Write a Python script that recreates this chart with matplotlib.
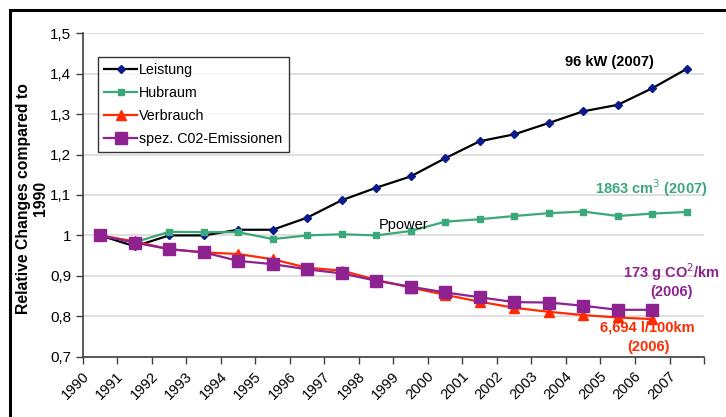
import numpy as np
import matplotlib.pyplot as plt
from matplotlib.patches import Rectangle

plt.rcParams['font.family'] = ['Liberation Sans', 'DejaVu Sans']

years = [str(y) for y in range(1990, 2008)]
leistung = [1.0, 0.973, 1.0, 1.0, 1.014, 1.014, 1.044, 1.087, 1.118, 1.146,
            1.191, 1.233, 1.250, 1.278, 1.307, 1.323, 1.364, 1.412]
hubraum = [1.0, 0.983, 1.009, 1.008, 1.008, 0.991, 1.0, 1.003, 1.0, 1.011,
           1.034, 1.040, 1.048, 1.055, 1.059, 1.048, 1.054, 1.058]
verbrauch = [1.0, 0.985, 0.966, 0.958, 0.954, 0.941, 0.920, 0.913, 0.890, 0.871,
             0.853, 0.836, 0.821, 0.811, 0.803, 0.797, 0.793]
co2 = [1.0, 0.982, 0.966, 0.958, 0.937, 0.929, 0.916, 0.906, 0.888, 0.873,
       0.859, 0.847, 0.835, 0.834, 0.826, 0.816, 0.816]
yticks = [0.7, 0.8, 0.9, 1.0, 1.1, 1.2, 1.3, 1.4, 1.5]
ytick_labels = ['0,7', '0,8', '0,9', '1', '1,1', '1,2', '1,3', '1,4', '1,5']

fig = plt.figure(figsize=(7.26, 4.17), dpi=100)
ax = fig.add_axes([0.1143, 0.1446, 0.8554, 0.7756])

x = np.arange(len(years))
ax.plot(x, leistung, color='black', lw=1.6, marker='D', ms=4.5,
        mfc='#0a1a8c', mec='#0a1a8c', label='Leistung', zorder=3)
ax.plot(x, hubraum, color='#3aa878', lw=1.6, marker='s', ms=5,
        mfc='#3aa878', mec='#3aa878', label='Hubraum', zorder=3)
ax.plot(x[:len(verbrauch)], verbrauch, color='#ff2a00', lw=1.6, marker='^', ms=6.5,
        mfc='#ff2a00', mec='#ff2a00', label='Verbrauch', zorder=4)
ax.plot(x[:len(co2)], co2, color='#8e2291', lw=1.6, marker='s', ms=9,
        mfc='#8e2291', mec='#8e2291', label='spez. C02-Emissionen', zorder=5)

ax.set_xlim(-0.5, len(years) - 0.5)
ax.set_ylim(0.7, 1.5)
ax.set_yticks(yticks)
ax.set_yticklabels(ytick_labels, fontsize=11)
ax.yaxis.grid(True, color='#d9d9d9', lw=1.2)
ax.set_axisbelow(True)

# category boundaries carry the tick marks, labels sit left of the centres
ax.set_xticks(np.arange(len(years) + 1) - 0.5, minor=True)
ax.set_xticks(x - 0.25)
ax.set_xticklabels(years, rotation=45, ha='right', va='top', fontsize=10.5)
ax.tick_params(axis='x', which='major', length=0, pad=9)
ax.tick_params(axis='x', which='minor', length=5, width=1, color='#404040')
ax.tick_params(axis='y', length=5, width=1, color='#404040')
for side in ['top', 'right']:
    ax.spines[side].set_visible(False)
for side in ['left', 'bottom']:
    ax.spines[side].set_color('#404040')
    ax.spines[side].set_linewidth(1.2)

ax.set_ylabel('Relative Changes compared to\n1990', fontsize=11.3,
              fontweight='bold', linespacing=1.15)
ax.yaxis.set_label_coords(-0.056, 0.49)

leg = ax.legend(loc='upper left', bbox_to_anchor=(0.024, 0.927), fontsize=10.3,
                frameon=True, fancybox=False, edgecolor='black',
                handlelength=2.3, handletextpad=0.15, borderpad=0.45,
                labelspacing=0.62, borderaxespad=0)
leg.get_frame().set_linewidth(1.0)

ax.text(14.77, 1.428, '96 kW (2007)', fontsize=10.5, fontweight='bold',
        ha='center', va='center', color='black')
ax.text(15.96, 1.118, '1863 cm$^{3}$ (2007)', fontsize=10.5, fontweight='bold',
        ha='center', va='center', color='#3aa878')
ax.text(16.55, 0.910, '173 g CO$^{2}$/km', fontsize=10.5, fontweight='bold',
        ha='center', va='center', color='#8e2291', clip_on=False)
ax.text(16.55, 0.860, '(2006)', fontsize=10.5, fontweight='bold',
        ha='center', va='center', color='#8e2291')
ax.text(15.86, 0.771, '6,694 l/100km', fontsize=10.5, fontweight='bold',
        ha='center', va='center', color='#ff2a00')
ax.text(15.88, 0.724, '(2006)', fontsize=10.5, fontweight='bold',
        ha='center', va='center', color='#ff2a00')
ax.text(8.08, 1.026, 'Ppower', fontsize=10.5, ha='left', va='center', color='black')

# outer frame around the chart area
fig.patches.append(Rectangle((10 / 726, -0.05), 1.0, 1 - 10 / 417 + 0.05,
                             transform=fig.transFigure, fill=False,
                             edgecolor='black', lw=2.2))

fig.savefig('out.png', dpi=100)
